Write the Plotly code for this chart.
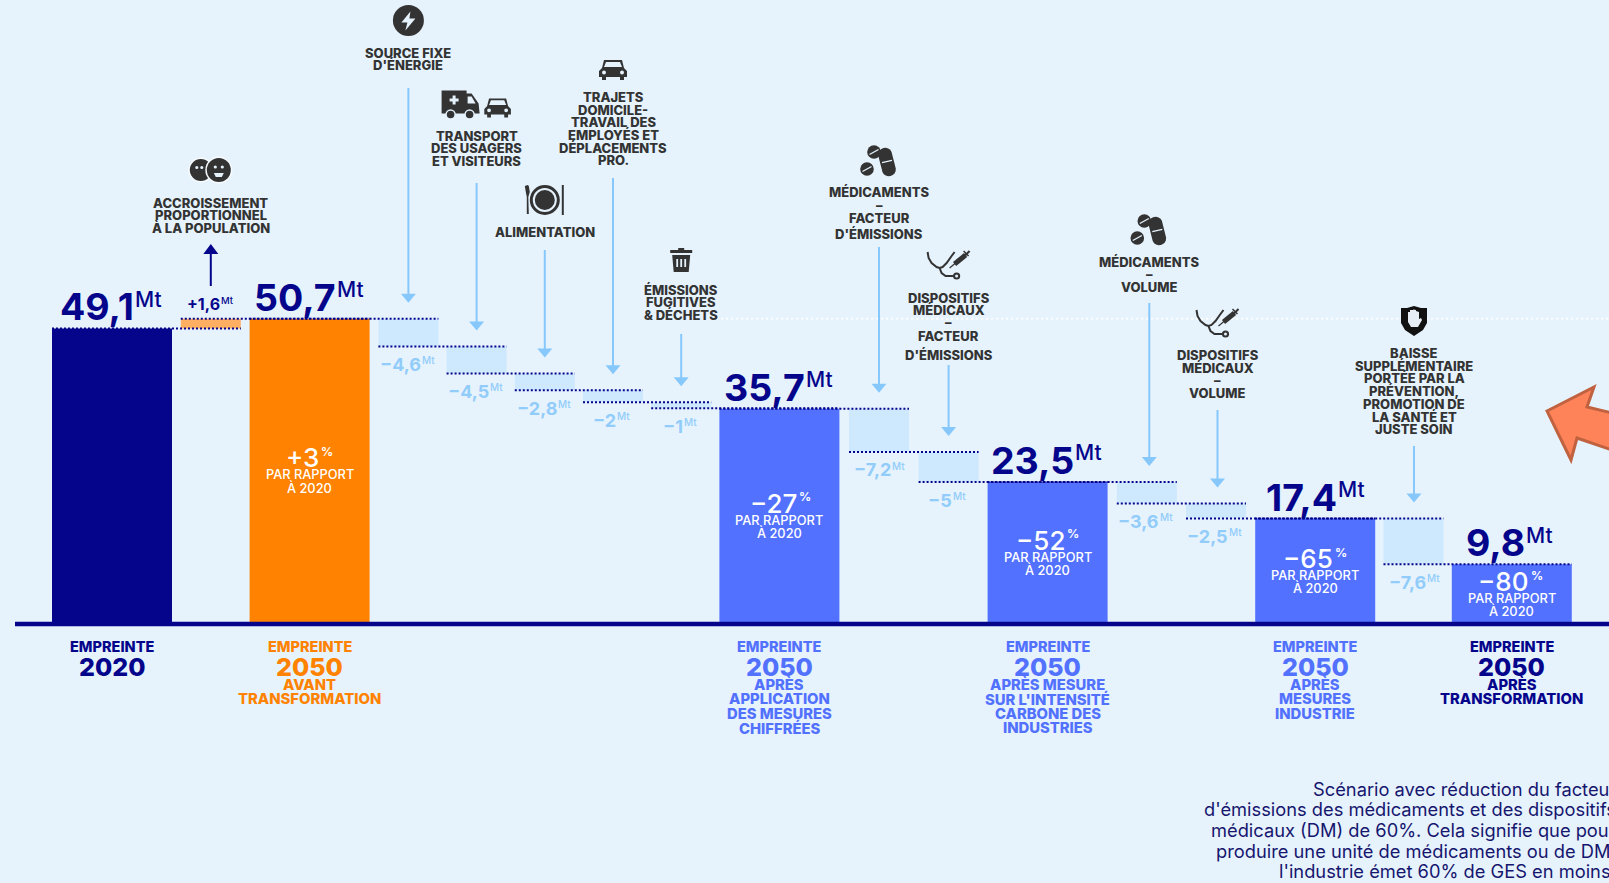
import math
import plotly.graph_objects as go

# ---------- data ----------
categories = ["Empreinte 2020", "Accroissement population", "Empreinte 2050 avant transformation",
              "Source fixe d'énergie", "Transport des usagers et visiteurs", "Alimentation",
              "Trajets domicile-travail", "Émissions fugitives & déchets",
              "Empreinte 2050 après mesures chiffrées",
              "Médicaments - facteur d'émissions", "Dispositifs médicaux - facteur d'émissions",
              "Empreinte 2050 après intensité carbone",
              "Médicaments - volume", "Dispositifs médicaux - volume",
              "Empreinte 2050 après mesures industrie",
              "Baisse supplémentaire", "Empreinte 2050 après transformation"]
values = [49.1, 1.6, 50.7, -4.6, -4.5, -2.8, -2, -1, 35.7, -7.2, -5, 23.5, -3.6, -2.5, 17.4, -7.6, 9.8]
is_total = [True, False, True, False, False, False, False, False, True, False, False, True, False, False, True, False, True]
value_labels = ["49,1", "+1,6", "50,7", "−4,6", "−4,5", "−2,8", "−2", "−1", "35,7", "−7,2", "−5", "23,5", "−3,6", "−2,5", "17,4", "−7,6", "9,8"]
percent_labels = {2: "+3", 8: "−27", 11: "−52", 14: "−65", 16: "−80"}
percent_sub = ["PAR RAPPORT", "À 2020"]
footer_lines = {
    0: ["2020"],
    2: ["2050", "AVANT", "TRANSFORMATION"],
    8: ["2050", "APRÈS", "APPLICATION", "DES MESURES", "CHIFFRÉES"],
    11: ["2050", "APRÈS MESURE", "SUR L'INTENSITÉ", "CARBONE DES", "INDUSTRIES"],
    14: ["2050", "APRÈS", "MESURES", "INDUSTRIE"],
    16: ["2050", "APRÈS", "TRANSFORMATION"],
}
note_lines = ["Scénario avec réduction du facteur",
              "d'émissions des médicaments et des dispositifs",
              "médicaux (DM) de 60%. Cela signifie que pour",
              "produire une unité de médicaments ou de DM,",
              "l'industrie émet 60% de GES en moins."]
head_lines = {
    1: ["ACCROISSEMENT", "PROPORTIONNEL", "À LA POPULATION"],
    3: ["SOURCE FIXE", "D'ÉNERGIE"],
    4: ["TRANSPORT", "DES USAGERS", "ET VISITEURS"],
    5: ["ALIMENTATION"],
    6: ["TRAJETS", "DOMICILE-", "TRAVAIL DES", "EMPLOYÉS ET", "DÉPLACEMENTS", "PRO."],
    7: ["ÉMISSIONS", "FUGITIVES", "& DÉCHETS"],
    9: ["MÉDICAMENTS", "–", "FACTEUR", "D'ÉMISSIONS"],
    10: ["DISPOSITIFS", "MÉDICAUX", "–", "FACTEUR", "D'ÉMISSIONS"],
    12: ["MÉDICAMENTS", "–", "VOLUME"],
    13: ["DISPOSITIFS", "MÉDICAUX", "–", "VOLUME"],
    15: ["BAISSE", "SUPPLÉMENTAIRE", "PORTÉE PAR LA", "PRÉVENTION,", "PROMOTION DE", "LA SANTÉ ET", "JUSTE SOIN"],
}

# ---------- style / layout ----------
W, H = 1609, 883
BG = "#E6F3FD"
NAVY = "#05058C"
ORANGE = "#FF8200"
BLUE = "#5271FF"
PALE = "#CEE8FE"
SKY = "#92CCFA"
ARROW = "#86C8FB"
DARK = "#333333"
FONT = "Inter"
BASE_PX, PX_PER_MT = 623.0, 6.0
LEFT, MAIN_W, STEP_W = 52.0, 120.0, 60.0
gaps = [8.8, 8.8, 8.8, 8.2, 8.2, 8.2, 8.2, 8.2, 9.6, 9.6, 9.0, 9.2, 9.2, 9.2, 8.3, 8.3, 8.8]

total_colors = {0: NAVY, 2: ORANGE, 16: BLUE}
footer_colors = {0: NAVY, 2: ORANGE, 8: BLUE, 11: BLUE, 14: BLUE, 16: NAVY}
# per-step pixel tweaks: line centres (page px) for headers, icon centres etc.
head_y = {
    1: [203, 215.5, 228], 3: [53, 65.5], 4: [135.5, 148, 161], 5: [232],
    6: [96.5, 110, 122, 134.5, 147.5, 160], 7: [289.5, 302, 314.5],
    9: [192, 205, 218, 234], 10: [297.5, 310, 322.5, 335.5, 355],
    12: [261.5, 274, 286.5], 13: [355, 367.5, 380, 392.5],
    15: [353, 365.5, 378.5, 391, 404, 416.5, 429],
}
head_dx = {12: 2.5, 13: 1.5, 15: 0.5}
arrow_start = {3: 88, 4: 183, 5: 250, 6: 178, 7: 334, 9: 247, 10: 365, 12: 303, 13: 410, 15: 446}

# ---------- geometry derived from data ----------
lefts, widths, bases, heights, ends, colors = [], [], [], [], [], []
cursor, level = LEFT, 0.0
for i, v in enumerate(values):
    w = MAIN_W if is_total[i] else STEP_W
    lefts.append(cursor)
    widths.append(w)
    cursor += w + gaps[i]
    if is_total[i]:
        bases.append(0.0); heights.append(v); level = v
        colors.append(total_colors.get(i, BLUE))
    else:
        bases.append(min(level, level + v)); heights.append(abs(v)); level += v
        colors.append("#FFAE62" if v > 0 else PALE)
    ends.append(level)
centres = [l + w / 2 for l, w in zip(lefts, widths)]
tops = [b + h for b, h in zip(bases, heights)]


def ypx(mt):
    return BASE_PX - mt * PX_PER_MT


def yp(px):
    return 1 - px / H


fig = go.Figure()
fig.add_trace(go.Bar(x=centres, y=heights, base=bases, width=widths, marker=dict(color=colors, line_width=0),
                     customdata=categories, hovertemplate="%{customdata}<extra></extra>", showlegend=False))

# connectors between steps
cx, cy = [], []
for i in range(len(values) - 1):
    cx += [lefts[i], lefts[i + 1] + widths[i + 1], None]
    cy += [ends[i], ends[i], None]
fig.add_trace(go.Scatter(x=[lefts[7] + STEP_W, W], y=[tops[2], tops[2]], mode="lines", showlegend=False,
                         line=dict(color="rgba(255,255,255,0.9)", width=2, dash="2px,3px"), hoverinfo="skip"))
fig.add_trace(go.Scatter(x=cx, y=cy, mode="lines", showlegend=False,
                         line=dict(color=NAVY, width=2, dash="2px,2px"), hoverinfo="skip"))
fig.add_trace(go.Scatter(x=[15, W], y=[-0.15, -0.15], mode="lines", showlegend=False,
                         line=dict(color=NAVY, width=4.5), hoverinfo="skip"))

ann, shp = [], []


def txt(x, py, s, size, color, weight=700, anchor="center", family=FONT):
    ann.append(dict(x=x, y=yp(py), xref="x", yref="paper", text=s, showarrow=False, xanchor=anchor, yanchor="middle",
                    font=dict(family=family, size=size, color=color, weight=weight)))


def est_width(s, size):
    t = 0
    for c in s:
        t += {",": 0.32, "1": 0.46, "−": 0.6, "+": 0.62}.get(c, 0.66)
    return t * size


def val_label(i, py, size, unit_size, color, unit="Mt", up=None, uw=500, gap=-3, dx=0):
    s = value_labels[i]
    w = est_width(s, size)
    uwid = unit_size * 1.2
    end = centres[i] + (w - uwid) / 2 + dx
    txt(end, py, s, size, color, 700, "right")
    txt(end + gap, py - (up if up is not None else size * 0.27), unit, unit_size, color, uw, "left")


def circle(cx_, cy_, r, fill):
    shp.append(dict(type="circle", xref="x", yref="paper", x0=cx_ - r, x1=cx_ + r, y0=yp(cy_ + r), y1=yp(cy_ - r),
                    fillcolor=fill, line_width=0))


def poly(pts, fill, ox=0, oy=0, s=1.0):
    p = "M " + " L ".join(f"{ox + x * s:.2f},{yp(oy + y * s):.5f}" for x, y in pts) + " Z"
    shp.append(dict(type="path", xref="x", yref="paper", path=p, fillcolor=fill, line_width=0))


def pline(pts, color, w, ox=0, oy=0, s=1.0):
    p = "M " + " L ".join(f"{ox + x * s:.2f},{yp(oy + y * s):.5f}" for x, y in pts)
    shp.append(dict(type="path", xref="x", yref="paper", path=p, line=dict(color=color, width=w), fillcolor="rgba(0,0,0,0)"))


def arrow_down(x, y0, tip):
    pline([(x, y0), (x, tip - 6)], ARROW, 2)
    poly([(x - 7.5, tip - 9), (x + 7.5, tip - 9), (x, tip)], ARROW)


def car(ox, oy, s=1.0):
    poly([(-14, 2), (-11, -1), (-9, -9), (9, -9), (11, -1), (14, 2), (14, 8), (11, 8), (11, 11), (7, 11), (7, 8),
          (-7, 8), (-7, 11), (-11, 11), (-11, 8), (-14, 8)], DARK, ox, oy, s)
    poly([(-7, -7), (7, -7), (9, -2), (-9, -2)], BG, ox, oy, s)
    circle(ox - 9 * s, oy + 3.5 * s, 2 * s, BG)
    circle(ox + 9 * s, oy + 3.5 * s, 2 * s, BG)


def ambulance(ox, oy):
    poly([(-19, -13), (6, -13), (6, -10), (11, -10), (18, 0), (19, 10), (-19, 10)], DARK, ox, oy)
    poly([(7, -7), (11, -7), (15, 0), (7, 0)], BG, ox, oy)
    poly([(-11, -5), (-8, -5), (-8, -8), (-5, -8), (-5, -5), (-2, -5), (-2, -2), (-5, -2), (-5, 1), (-8, 1), (-8, -2), (-11, -2)], BG, ox, oy)
    for dx in (-10, 9):
        circle(ox + dx, oy + 11, 5.2, BG)
        circle(ox + dx, oy + 11, 3.8, DARK)


def plate(ox, oy):
    circle(ox, oy, 15, DARK); circle(ox, oy, 12, BG); circle(ox, oy, 10, DARK)
    poly([(-19, -8), (-20, -14), (-17, -15), (-16, -14), (-15, -8), (-16.5, -3), (-16, 14), (-18, 14), (-18, -3)], DARK, ox, oy)
    poly([(17, -15), (19, -15), (19, 15), (17, 15)], DARK, ox, oy)


def trash(ox, oy):
    poly([(-3, -13), (3, -13), (3, -11), (11, -11), (11, -8), (-11, -8), (-11, -11), (-3, -11)], DARK, ox, oy)
    poly([(-9, -6), (9, -6), (7.5, 11), (-7.5, 11)], DARK, ox, oy)
    for dx in (-4, 0, 4):
        poly([(dx - 0.9, -2), (dx + 0.9, -2), (dx + 0.9, 6), (dx - 0.9, 6)], BG, ox, oy)


def pills(ox, oy):
    a = math.radians(14)
    ca, sa = math.cos(a), math.sin(a)
    pts = []
    for t in range(-90, 271, 20):
        r = math.radians(t)
        x, y = 7 * math.cos(r), 7 * math.sin(r)
        y += -7.5 if math.sin(r) < 0 else 7.5
        pts.append((x * ca + y * sa + 8, -x * sa + y * ca))
    poly(pts, DARK, ox, oy)
    pline([(3, 0.6), (13, -1.6)], BG, 1.4, ox, oy)
    for dx, dy, rr in ((-5, -10, 6.8), (-12, 7, 6.8)):
        circle(ox + dx, oy + dy, rr, DARK)
        pline([(dx - 4.5, dy + 2.5), (dx + 4.5, dy - 2.5)], BG, 1.4, ox, oy)


def stetho(ox, oy):
    pline([(-21, -13), (-20, -7), (-17, -2), (-12, 2), (-9, 3), (-6, 2), (-2, -2), (3, -9), (6, -13)], DARK, 2, ox, oy)
    pline([(-9, 3), (-7, 8), (-3, 11), (5, 11)], DARK, 2, ox, oy)
    circle(ox + 8, oy + 11, 3.6, DARK); circle(ox + 8, oy + 11, 1.5, BG)
    pline([(6, -1), (17, -10)], DARK, 5, ox, oy)
    pline([(1, 3), (7, -2)], DARK, 1.2, ox, oy)
    pline([(16, -9), (21, -14)], DARK, 2, ox, oy)
    pline([(15, -14), (20, -9)], DARK, 1.5, ox, oy)


def shield(ox, oy):
    poly([(0, -15), (7, -13), (13, -13), (13, 2), (9, 9), (0, 15), (-9, 9), (-13, 2), (-13, -13), (-7, -13)], "#111111", ox, oy)
    poly([(-6, -5), (-6, -9), (-4, -9), (-4, -11), (-1, -11), (-1, -11.5), (2, -11), (2, -10), (5, -9), (5, -2), (7, -3), (8, -1), (4, 6), (-3, 6), (-6, 1)], "#E8EEF5", ox, oy)


def faces(ox, oy):
    circle(ox - 10, oy, 12.5, "#F7FBFE"); circle(ox - 10, oy, 11, DARK)
    circle(ox - 14, oy - 2.5, 1.6, BG); circle(ox - 9, oy - 2.5, 1.6, BG)
    circle(ox + 8, oy, 13.5, "#F7FBFE"); circle(ox + 8, oy, 12, DARK)
    circle(ox + 4.5, oy - 3, 1.6, BG); circle(ox + 11.5, oy - 3, 1.6, BG)
    poly([(3, 3), (13, 3), (11, 7), (5, 7)], BG, ox, oy)


def bolt(ox, oy):
    circle(ox, oy, 15.5, DARK)
    poly([(2, -9), (-7, 2), (-1, 2), (-3, 10), (7, -2), (1, -2)], BG, ox, oy)


# ---------- value labels ----------
for i in range(len(values)):
    if is_total[i]:
        val_label(i, ypx(tops[i]) - 21.5, 37.5, 21, NAVY, up=7.5, dx=-2.5)
    elif values[i] > 0:
        val_label(i, ypx(ends[i]) - 15, 16, 9.5, NAVY, up=3.5)
    else:
        val_label(i, ypx(bases[i]) + 18, 18, 10, SKY, up=4.5)

# ---------- percent labels in bars ----------
for i, s in percent_labels.items():
    c = centres[i]
    py_sub = {2: 475, 8: 520, 11: 557, 14: 575.5, 16: 598.5}[i]
    w = est_width(s, 26)
    end = c + (w - 11) / 2
    txt(end, py_sub - 17, s, 26, "white", 500, "right")
    txt(end - 2, py_sub - 23.5, "%", 12, "white", 700, "left")
    for k, line in enumerate(percent_sub):
        txt(c, py_sub + k * 12.5, line, 12.8, "white", 500)

# ---------- footer ----------
for i, lines in footer_lines.items():
    col = footer_colors[i]
    txt(centres[i], 646.5, "EMPREINTE", 14.5, col, 800)
    txt(centres[i], 666.5, lines[0], 25, col, 800)
    for k, l in enumerate(lines[1:]):
        txt(centres[i], 684.5 + k * 14.6, l, 14.8, col, 800)

# ---------- head labels and arrows ----------
hx = [c + head_dx.get(i, 0) for i, c in enumerate(centres)]
for i, lines in head_lines.items():
    for l, py in zip(lines, head_y[i]):
        txt(hx[i], py, l, 13, DARK, 800)
    if i in arrow_start:
        arrow_down(hx[i], arrow_start[i], ypx(tops[i]) - 16)

# population arrow (upwards)
pline([(centres[1], 286), (centres[1], 250)], NAVY, 2)
poly([(centres[1] - 7.5, 254), (centres[1] + 7.5, 254), (centres[1], 244)], NAVY)

# ---------- icons ----------
faces(hx[1], 170)
bolt(hx[3], 20.5)
ambulance(hx[4] - 16, 103.5); car(hx[4] + 21, 107, 0.95)
plate(hx[5], 200)
car(hx[6], 69, 1.0)
trash(hx[7], 261)
pills(hx[9], 162)
stetho(hx[10], 265)
pills(hx[12], 231)
stetho(hx[13], 323)
shield(hx[15], 321)

# ---------- orange call-out arrow ----------
shp.append(dict(type="path", xref="x", yref="paper",
                path="M " + " L ".join(f"{x},{yp(y):.5f}" for x, y in
                                       [(1547, 411), (1594, 387), (1587, 407), (1612, 413), (1612, 450), (1577, 438), (1571, 460)]) + " Z",
                fillcolor="#FF8359", line=dict(color="#C0623F", width=3)))

# ---------- note (right-aligned, running past the page edge as in the reference) ----------
for k, l in enumerate(note_lines):
    ann.append(dict(x=1618 / W, y=yp(788.5 + k * 20.7), xref="paper", yref="paper", text=l, showarrow=False,
                    xanchor="right", yanchor="middle", font=dict(family=FONT, size=18.3, color="#16166E", weight=400)))

fig.update_layout(
    width=W, height=H, autosize=False, margin=dict(l=0, r=0, t=0, b=0),
    paper_bgcolor=BG, plot_bgcolor=BG, showlegend=False, barmode="overlay",
    xaxis=dict(range=[0, W], visible=False, fixedrange=True),
    yaxis=dict(range=[(BASE_PX - H) / PX_PER_MT, BASE_PX / PX_PER_MT], visible=False, fixedrange=True),
    annotations=ann, shapes=shp,
)
fig.write_html("out.html", config=dict(displayModeBar=False),
               post_script="document.body.style.margin='0';document.documentElement.style.overflow='hidden';document.body.style.background='%s';" % BG)
